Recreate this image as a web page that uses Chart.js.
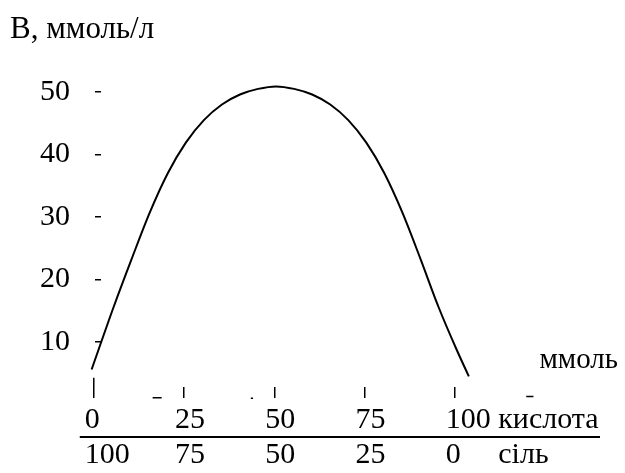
<!DOCTYPE html>
<html lang="uk">
<head>
<meta charset="utf-8">
<title>Буферна ємність</title>
<script src="https://cdn.jsdelivr.net/npm/chart.js@4/dist/chart.umd.min.js"></script>
<style>
  html, body { margin: 0; padding: 0; background: #fff; }
  #wrap { width: 625px; height: 473px; }
</style>
</head>
<body>
<div id="wrap"><canvas id="chart" width="625" height="473"></canvas></div>
<script>
// Buffer capacity B (mmol/l) versus the acid / salt composition (mmol)
const acidAmounts = [0, 25, 50, 75, 100];
const saltAmounts = [100, 75, 50, 25, 0];
const rowNames = ['кислота', 'сіль'];
const capacityTicks = [10, 20, 30, 40, 50];

const curveX = [-0.6, 5.5, 10.5, 15.5, 20.5, 25.5, 30.5, 35.5, 40.5, 45.5, 50.5,
                55.5, 60.5, 65.5, 70.5, 75.5, 80.5, 85.5, 90.5, 95.5, 100.5, 103.9];
const curveB = [5.6, 15.6, 23.3, 30.7, 37.0, 41.9, 45.5, 48.0, 49.6, 50.5, 50.9,
                50.5, 49.6, 48.0, 45.5, 41.9, 37.0, 30.7, 23.3, 15.6, 8.8, 4.5];

// short strokes under the plot (pairs of end points, null breaks the line)
const strokeX = [0, 0, null, 16.3, 18.8, null, 43.5, 44.1, null, 119.8, 121.8];
const strokeY = [2.8, 4.3, null, 1.1, 1.1, null, 1.0, 1.0, null, 1.3, 1.3];

const FONT = "'Liberation Serif', 'Times New Roman', serif";
Chart.defaults.font.family = FONT;
Chart.defaults.font.size = 30;
Chart.defaults.color = '#000';

const decorations = {
  id: 'decorations',
  afterDraw(chart) {
    const { ctx, chartArea } = chart;
    const xs = chart.scales.x;
    ctx.save();
    // rule between the acid row and the salt row
    ctx.strokeStyle = '#000';
    ctx.lineWidth = 2;
    const y = xs.top + 50;
    ctx.beginPath();
    ctx.moveTo(xs.getPixelForValue(acidAmounts[0]) - 14, y);
    ctx.lineTo(chart.width - 25, y);
    ctx.stroke();
    // unit caption of the horizontal axis
    ctx.fillStyle = '#000';
    ctx.font = '29px ' + FONT;
    ctx.textAlign = 'right';
    ctx.textBaseline = 'middle';
    ctx.fillText('ммоль', chart.width - 7, chartArea.bottom - 27);
    ctx.restore();
  }
};

new Chart(document.getElementById('chart'), {
  type: 'scatter',
  data: {
    datasets: [
      {
        data: curveX.map((x, i) => ({ x, y: curveB[i] })),
        showLine: true,
        borderColor: '#000',
        borderWidth: 2,
        pointRadius: 0,
        cubicInterpolationMode: 'monotone',
        clip: false
      },
      {
        data: strokeX.map((x, i) => ({ x, y: strokeY[i] })),
        showLine: true,
        spanGaps: false,
        borderColor: '#000',
        borderWidth: 1.5,
        pointRadius: 0,
        clip: false
      }
    ]
  },
  options: {
    responsive: false,
    animation: false,
    events: [],
    layout: { padding: { left: 10, right: 80, top: 0, bottom: 0 } },
    plugins: {
      legend: { display: false },
      tooltip: { enabled: false },
      title: {
        display: true,
        text: 'В, ммоль/л',
        align: 'start',
        font: { size: 31, weight: 'normal', lineHeight: 1.2 },
        color: '#000',
        padding: { top: 11, bottom: 18.8 }
      }
    },
    scales: {
      x: {
        type: 'linear',
        min: 2,
        max: 125,
        border: { display: false },
        grid: { drawOnChartArea: false, drawTicks: true, tickLength: 11, color: '#000', lineWidth: 1.5 },
        afterBuildTicks(scale) { scale.ticks = acidAmounts.map(v => ({ value: v })); },
        afterFit(scale) {
          scale.height = 86;
          scale.paddingLeft = 0;
          scale.paddingRight = 0;
        },
        ticks: {
          autoSkip: false,
          maxRotation: 0,
          align: 'start',
          labelOffset: -9,
          padding: 4.5,
          font: { size: 30, lineHeight: 35 / 30 },
          callback(value) {
            const i = acidAmounts.indexOf(value);
            if (i < 0) return '';
            const last = i === acidAmounts.length - 1;
            return last
              ? [acidAmounts[i] + ' ' + rowNames[0], saltAmounts[i] + '     ' + rowNames[1]]
              : [String(acidAmounts[i]), String(saltAmounts[i])];
          }
        }
      },
      y: {
        type: 'linear',
        min: 2.8,
        max: 54,
        border: { display: false },
        grid: { drawOnChartArea: false, drawTicks: true, tickLength: 6, color: '#000', lineWidth: 1.5 },
        afterBuildTicks(scale) { scale.ticks = capacityTicks.map(v => ({ value: v })); },
        afterFit(scale) {
          scale.width = 91;
          scale.paddingTop = 0;
          scale.paddingBottom = 0;
        },
        ticks: { padding: 25, font: { size: 30 } }
      }
    }
  },
  plugins: [decorations]
});
</script>
</body>
</html>
